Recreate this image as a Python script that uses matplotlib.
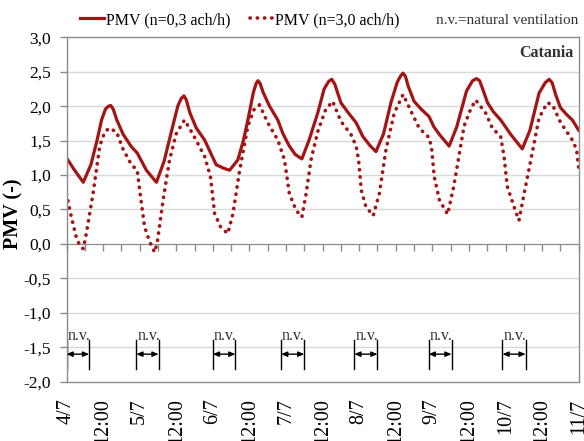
import numpy as np
import matplotlib.pyplot as plt

plt.rcParams['font.family'] = ['Liberation Serif', 'DejaVu Serif']

# hours from 4/7 00:00
hA = [0, 2.5, 5.5, 8, 10, 11.5, 12.8, 13.8, 14.5, 15.3, 16.5, 18.6, 21.3, 23.2, 26.2, 29.5, 32, 34.4,
      36.5, 37.6, 38.5, 39.3, 40.5, 42.6, 45.3, 47.5, 49.1, 51.5, 53.5, 56.2, 58, 59.5, 61.3, 62.2, 62.8,
      63.5, 64.5, 66.6, 69.3, 71, 73.1, 75, 77.2, 79.5, 82.4, 84.5, 86, 87, 88, 90, 92.5, 95, 97.2,
      99.5, 101.5, 104, 106.4, 108.5, 109.6, 110.4, 111.2, 112, 114, 116.5, 118.9, 120.5, 122.3, 125.5,
      128, 131.2, 133.2, 134.5, 135.5, 136.5, 138.1, 140, 142.4, 144, 145.7, 149.5, 152, 155, 157, 158.3,
      159.3, 160.5, 162, 164, 165.9, 168]
pmvA = [1.25, 1.08, 0.895, 1.15, 1.5, 1.8, 1.96, 2.0, 2.01, 1.96, 1.8, 1.59, 1.41, 1.32, 1.07, 0.895, 1.2, 1.63,
        2.0, 2.11, 2.15, 2.09, 1.9, 1.68, 1.51, 1.3, 1.15, 1.1, 1.07, 1.22, 1.5, 1.8, 2.2, 2.33, 2.37,
        2.33, 2.2, 2.0, 1.8, 1.6, 1.42, 1.3, 1.235, 1.5, 1.9, 2.25, 2.36, 2.39, 2.32, 2.05, 1.9, 1.76, 1.56,
        1.43, 1.34, 1.6, 2.05, 2.35, 2.44, 2.48, 2.43, 2.3, 2.07, 1.95, 1.85, 1.7, 1.59, 1.42,
        1.7, 2.22, 2.37, 2.40, 2.37, 2.25, 2.05, 1.92, 1.80, 1.7, 1.59, 1.38, 1.65, 2.19, 2.34, 2.39,
        2.34, 2.16, 1.98, 1.88, 1.80, 1.65]

hB = [0, 1.6, 3.3, 4.5, 5.5, 6.5, 8.7, 10.9, 12.5, 13.9, 16.4, 18.6, 21.3, 23.2, 24, 25.6,
      27.3, 28.9, 29.8, 31.7, 33.8, 36, 38.7, 41.5, 45.3, 47.2, 48.6, 50.5, 52.9, 54.6,
      56.8, 59.5, 61.5, 63.3, 66, 69.3, 71.5, 73.1, 75.3, 77.2, 78.6, 80.2, 82.4, 85,
      87.3, 90, 93.3, 95, 95.8, 96.7, 98.2, 100.6, 102.6, 104.8, 107.5, 110.4, 113.5,
      115.7, 119, 119.8, 120.6, 122.3, 125, 127, 130.4, 132.5, 134.2, 137.5, 139.7,
      142.4, 143.5, 144.6, 146.8, 148.4, 150.1, 152.3, 155, 157.7, 159.4, 162.1, 165.9,
      167.3, 168]
pmvB = [0.73, 0.39, 0.08, -0.03, -0.07, 0.15, 0.73, 1.42, 1.62, 1.68, 1.63, 1.37, 1.15, 1.07, 0.78, 0.25,
        0.03, -0.12, 0.03, 0.64, 1.22, 1.6, 1.80, 1.59, 1.27, 0.98, 0.44, 0.25, 0.15, 0.44,
        1.07, 1.71, 1.95, 2.02, 1.76, 1.51, 1.22, 0.73, 0.49, 0.39, 0.73, 1.22, 1.63, 1.95,
        2.07, 1.78, 1.59, 1.42, 1.22, 0.78, 0.54, 0.41, 0.73, 1.37, 1.9, 2.17, 1.88,
        1.68, 1.54, 1.37, 0.98, 0.64, 0.43, 0.83, 1.71, 1.95, 2.09, 1.90, 1.68,
        1.56, 1.27, 0.83, 0.54, 0.34, 0.73, 1.22, 1.83, 2.05, 2.02, 1.76, 1.51,
        1.37, 1.10]

# natural ventilation periods (start, end) in hours
nv_start = [0, 22.9, 48, 70.4, 94.4, 118.8, 143]
nv_end = [7.4, 30.2, 55.4, 78, 102, 126.3, 150.6]

xlabels = ['4/7', '12:00', '5/7', '12:00', '6/7', '12:00', '7/7', '12:00', '8/7', '12:00',
           '9/7', '12:00', '10/7', '12:00', '11/7']
yticks = [3.0, 2.5, 2.0, 1.5, 1.0, 0.5, 0.0, -0.5, -1.0, -1.5, -2.0]

red = '#A31515'
gray = '#8c8c8c'

fig = plt.figure(figsize=(5.84, 4.41), dpi=100)
ax = fig.add_axes([66.5/584, 1-381.7/441, (578.7-66.5)/584, (381.7-37.3)/441])

for y in yticks[1:-1]:
    ax.axhline(y, color='#d9d9d9', lw=1, zorder=0)

l1, = ax.plot(hA, pmvA, color=red, lw=2.3, solid_joinstyle='round')
l2, = ax.plot(hB, pmvB, color=red, lw=2.6, linestyle=(0, (0.1, 1.9)), dash_capstyle='round')

ax.set_xlim(0, 168)
ax.set_ylim(-2, 3)
ax.set_yticks(yticks)
ax.set_yticklabels([('%.1f' % v).replace('.', ',') for v in yticks], fontsize=12.5)
ax.set_xticks(np.arange(0, 169, 12))
ax.set_xticklabels(xlabels, rotation=90, fontsize=14.5)
ax.tick_params(axis='x', length=0, pad=12)
ax.tick_params(axis='y', length=5, width=1, color=gray, pad=6)
for s in ax.spines.values():
    s.set_color(gray)
    s.set_linewidth(1)

# axis line at zero with 6-hourly ticks
zax = ax.secondary_xaxis(0.4)
zax.set_xticks(np.arange(0, 169, 6))
zax.tick_params(axis='x', direction='out', length=5, width=1, color=gray, labelbottom=False, labeltop=False)
zax.spines['bottom'].set_color(gray)
zax.spines['top'].set_visible(False)

for a, b in zip(nv_start, nv_end):
    ax.plot([a, a], [-1.40, -1.82], color='k', lw=1)
    ax.plot([b, b], [-1.40, -1.82], color='k', lw=1)
    ax.annotate('', xy=(b, -1.6), xytext=(a, -1.6),
                arrowprops=dict(arrowstyle='<|-|>,head_length=0.35,head_width=0.15', color='k', lw=1,
                                shrinkA=0, shrinkB=0))
    ax.text(a + 0.3, -1.45, 'n.v.', fontsize=11.5, ha='left', va='bottom', color='#333333')

ax.text(0.99, 0.955, 'Catania', transform=ax.transAxes, ha='right', va='center',
        fontsize=11.5, fontweight='bold', color='#333333')

fig.text(13/584, 1-214/441, 'PMV (-)', rotation=90, ha='center', va='center',
         fontsize=14.5, fontweight='bold')

fig.legend([l1, l2], ['PMV (n=0,3 ach/h)', 'PMV (n=3,0 ach/h)'], loc='center left',
           bbox_to_anchor=(74/584, 1-20/441), ncol=2, frameon=False, fontsize=11.5,
           handlelength=1.5, handletextpad=0.1, columnspacing=1.2, borderaxespad=0)
fig.text(578/584, 1-20/441, 'n.v.=natural ventilation', ha='right', va='center', fontsize=11,
         color='#333333')

fig.savefig('out.png', dpi=100)
